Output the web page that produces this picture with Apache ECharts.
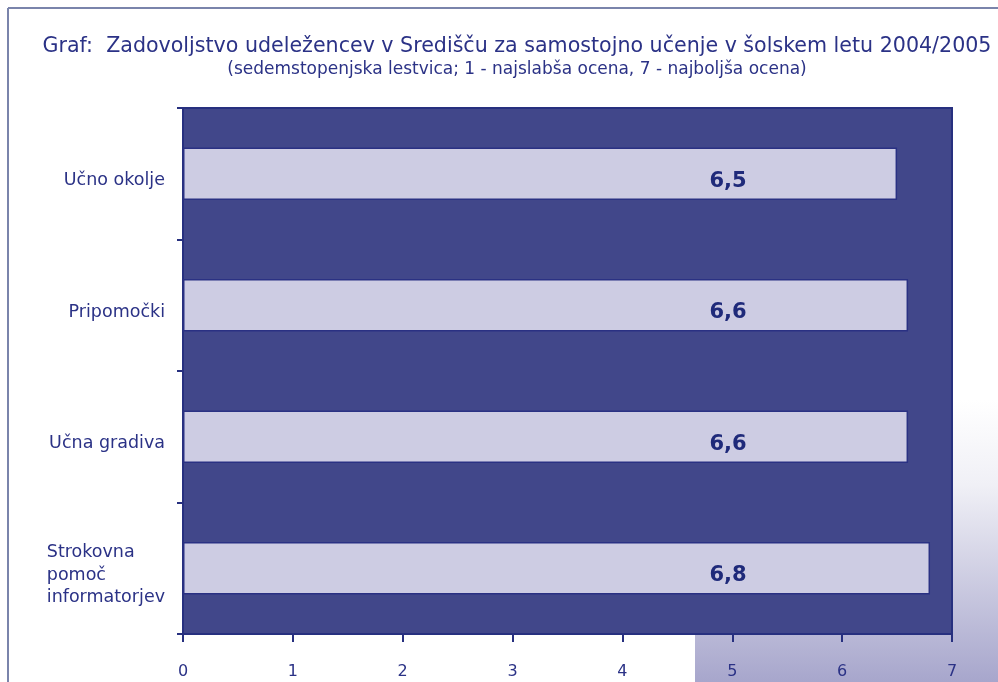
<!DOCTYPE html>
<html>
<head>
<meta charset="utf-8">
<script src="https://cdn.jsdelivr.net/npm/echarts@6/dist/echarts.min.js"></script>
<style>
html,body{margin:0;padding:0;background:#fff;}
#main{width:998px;height:682px;}
</style>
</head>
<body>
<div id="main"></div>
<script>
const categories = ['Učno okolje', 'Pripomočki', 'Učna gradiva', 'Strokovna\npomoč\ninformatorjev'];
const values = [6.5, 6.6, 6.6, 6.8];
const valueLabels = ['6,5', '6,6', '6,6', '6,8'];
const xTicks = [0, 1, 2, 3, 4, 5, 6, 7];

const navy = '#27307f';
const textNavy = '#2b3286';
const fontFam = '"DejaVu Sans", sans-serif';

const chart = echarts.init(document.getElementById('main'), null, {renderer: 'canvas'});
chart.setOption({
  backgroundColor: '#ffffff',
  animation: false,
  title: {
    text: 'Graf:  Zadovoljstvo udeležencev v Središču za samostojno učenje v šolskem letu 2004/2005',
    subtext: '(sedemstopenjska lestvica; 1 - najslabša ocena, 7 - najboljša ocena)',
    left: 512,
    textAlign: 'center',
    top: 31,
    itemGap: 4,
    textStyle: {color: textNavy, fontFamily: fontFam, fontSize: 20.6, fontWeight: 'normal'},
    subtextStyle: {color: textNavy, fontFamily: fontFam, fontSize: 17}
  },
  graphic: [
    {type: 'rect', z: -10, silent: true, shape: {x: 695, y: 400, width: 303, height: 282},
     style: {fill: new echarts.graphic.LinearGradient(0, 0, 0, 1, [
       {offset: 0, color: '#ffffff'}, {offset: 0.3, color: '#f0f0f6'}, {offset: 1, color: '#a7a6cc'}])}},
    {type: 'line', z: 10, silent: true, shape: {x1: 8, y1: 8, x2: 998, y2: 8}, style: {stroke: '#7a84ab', lineWidth: 2}},
    {type: 'line', z: 10, silent: true, shape: {x1: 8, y1: 8, x2: 8, y2: 682}, style: {stroke: '#7a84ab', lineWidth: 2}}
  ],
  grid: {
    left: 183, right: 46, top: 108, bottom: 48,
    show: true, backgroundColor: '#41478a', borderColor: navy, borderWidth: 2
  },
  xAxis: {
    type: 'value', min: 0, max: 7, interval: 1,
    splitLine: {show: false},
    axisLine: {show: true, lineStyle: {color: navy, width: 2}},
    axisTick: {show: true, length: 8, lineStyle: {color: navy, width: 2}},
    axisLabel: {color: textNavy, fontFamily: fontFam, fontSize: 16, margin: 30,
      formatter: v => xTicks.includes(v) ? String(v) : ''}
  },
  yAxis: {
    type: 'category', inverse: true, data: categories,
    axisLine: {show: true, lineStyle: {color: navy, width: 2}},
    axisTick: {show: true, length: 6, lineStyle: {color: navy, width: 2}},
    axisLabel: {
      margin: 18, color: textNavy, fontFamily: fontFam, fontSize: 17.5,
      padding: [14, 0, 0, 0],
      formatter: v => v.split('\n').map(s => '{a|' + s + '}').join('\n'),
      rich: {a: {align: 'left', color: textNavy, fontFamily: fontFam, fontSize: 17.5, lineHeight: 22.5}}
    }
  },
  series: [{
    type: 'bar',
    data: values,
    barCategoryGap: '60%',
    itemStyle: {color: '#cdcce3', borderColor: '#2a3183', borderWidth: 1.5},
    label: {
      show: true,
      position: [545, '64%'],
      align: 'center',
      verticalAlign: 'middle',
      color: '#1f2a7a',
      fontFamily: '"DejaVu Sans", sans-serif',
      fontWeight: 'bold',
      fontSize: 21,
      formatter: p => valueLabels[p.dataIndex]
    }
  }]
});
</script>
</body>
</html>
